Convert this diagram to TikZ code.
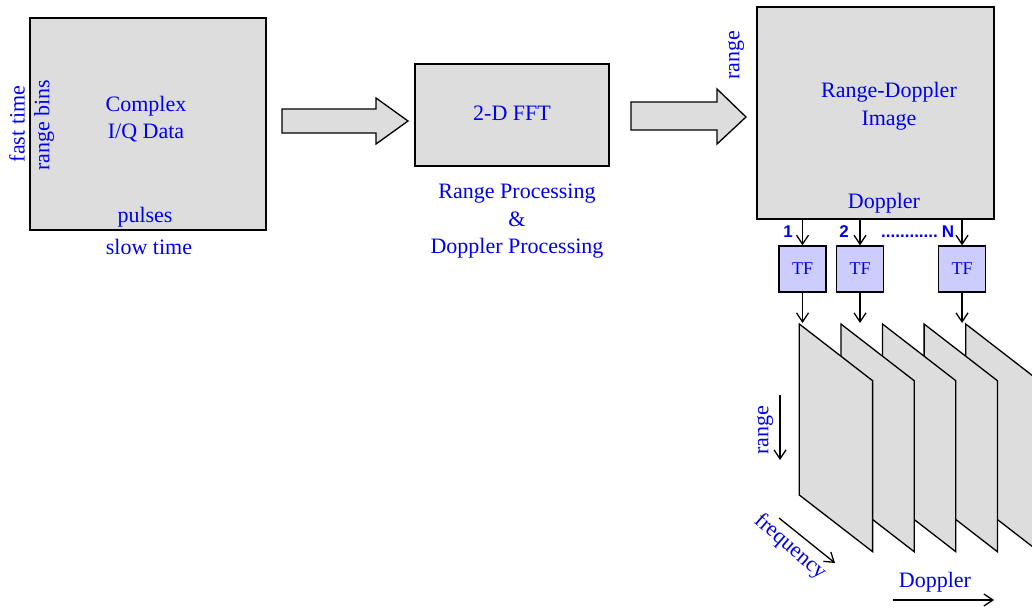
\documentclass[tikz,border=0pt]{standalone}
\usepackage{fontspec}
\setmainfont{Liberation Serif}
\newfontfamily\chanfont{Liberation Sans}
\usetikzlibrary{arrows.meta,positioning}
\definecolor{boxgray}{HTML}{DDDDDD}
\definecolor{tfblue}{HTML}{CCCCFF}
\definecolor{labelblue}{HTML}{0000F0}
\tikzset{
  data box/.style={draw,line width=1.8pt,fill=boxgray,inner sep=0pt},
  tf box/.style={draw,line width=1.3pt,fill=tfblue,minimum width=47pt,minimum height=46pt,inner sep=0pt,text=labelblue,font=\fontsize{18}{20}\selectfont},
  blue text/.style={text=labelblue,font=\fontsize{22}{26.5}\selectfont,align=center,inner sep=0pt},
  wide lines/.style={font=\fontsize{22}{27.5}\selectfont},
  chan label/.style={text=labelblue,font=\chanfont\bfseries\fontsize{17}{20}\selectfont,inner sep=0pt,anchor=base},
  fat arrow/.style={draw,line width=1.3pt,fill=boxgray,line join=miter},
  plane face/.style={draw,line width=1.3pt,fill=boxgray,line join=miter},
  thin arrow/.style={-{Straight Barb[length=9pt,width=12pt]},line width=1.3pt},
}

\begin{document}
\begin{tikzpicture}[x=1pt,y=-1pt]
  \useasboundingbox (0,0) rectangle (1032,610);
  % raw data cube
  \node[data box,minimum width=236pt,minimum height=212pt] (iq) at (148,124) {};
  \node[blue text] (iqtxt) at (146,119) {Complex\\I/Q Data};
  \node[blue text,rotate=90] (fast) at (17,124) {fast time};
  \node[blue text,rotate=90] (bins) at (44,125) {range bins};
  \node[blue text,anchor=base] (pulses) at (145,222.5) {pulses};
  \node[blue text,anchor=base] (slow) at (149,254.5) {slow time};

  % 2-D FFT
  \draw[fat arrow] (282,109) -- (376,109) -- (376,98) -- (408,121)
    -- (376,144) -- (376,133) -- (282,133) -- cycle;
  \node[data box,minimum width=194pt,minimum height=102pt] (fft) at (512,115) {};
  \node[blue text,anchor=base] (ffttxt) at (512,120) {2-D FFT};
  \node[blue text,wide lines] (proc) at (517,221.5) {Range Processing\\\&\\Doppler Processing};

  % range-Doppler image
  \draw[fat arrow] (631,102) -- (717,102) -- (717,89) -- (746,117)
    -- (717,144) -- (717,130) -- (631,130) -- cycle;
  \node[data box,minimum width=237pt,minimum height=212pt] (rd) at (875.5,113) {};
  \node[blue text,wide lines] (rdtxt) at (889,106) {Range-Doppler\\Image};
  \node[blue text,rotate=90] (rng) at (736,55) {range};
  \node[blue text,anchor=base] (dop) at (884,208) {Doppler};

  % time-frequency transforms
  \coordinate (toprow) at (0,323);
  \foreach \i/\x in {1/802.5,2/860,3/962}{
    \node[tf box] (tf\i) at (\x,269) {TF};
    \draw[thin arrow] (tf\i.north |- rd.south) -- (tf\i.north);
    \draw[thin arrow] (tf\i.south) -- (tf\i.south |- toprow);
  }
  \node[chan label] (c1) at (788,237.5) {1};
  \node[chan label] (c2) at (844,237.5) {2};
  \node[chan label] (cdots) at (909.5,237.5) {............};
  \node[chan label] (cn) at (948,237.5) {N};

  % stack of range-frequency planes, back to front
  \foreach \k in {4,3,2,1,0}{
    \draw[plane face] ({799.3+41.6*\k},324) -- ({872.6+41.6*\k},380.7)
      -- ({872.6+41.6*\k},551.7) -- ({799.3+41.6*\k},495) -- cycle;
  }

  % axes of the stack
  \coordinate (rngA) at (780,395);
  \coordinate (rngB) at (780,460);
  \draw[thin arrow] (rngA) -- (rngB);
  \node[blue text,rotate=90] (rnglbl) at (765,430) {range};
  \coordinate (frqA) at (779,518);
  \coordinate (frqB) at (835,563);
  \draw[thin arrow] (frqA) -- (frqB);
  \node[blue text,rotate=-41] (frqlbl) at (790,547) {frequency};
  \coordinate (dopA) at (893,600);
  \coordinate (dopB) at (994,600);
  \draw[thin arrow] (dopA) -- (dopB);
  \node[blue text,anchor=base] (doplbl) at (935,587.3) {Doppler};
\end{tikzpicture}
\end{document}
